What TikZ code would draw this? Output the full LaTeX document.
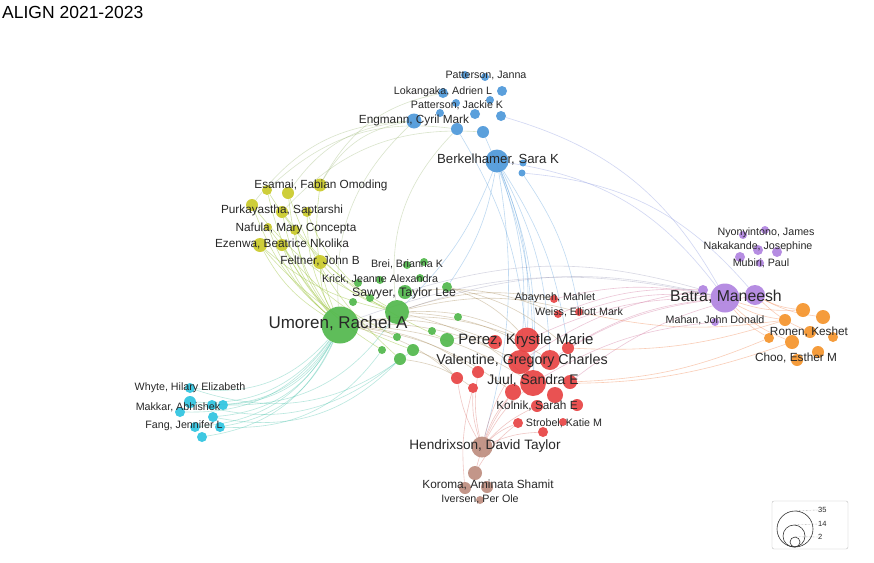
\documentclass[tikz,border=0pt]{standalone}
\usepackage{fontspec}
\setmainfont{Liberation Sans}
\usetikzlibrary{backgrounds}

\definecolor{vblue}{RGB}{78,152,218}
\definecolor{vgreen}{RGB}{82,184,76}
\definecolor{vred}{RGB}{232,68,68}
\definecolor{vyellow}{RGB}{202,202,42}
\definecolor{vpurple}{RGB}{176,132,224}
\definecolor{vorange}{RGB}{245,148,44}
\definecolor{vcyan}{RGB}{46,196,224}
\definecolor{vbrown}{RGB}{190,142,128}
\definecolor{labgray}{RGB}{40,40,40}

\def\bluenodes{berkel,b2,b3,engmann,b5,b6,b7,b8,b9,b10,b11,b12,b13,b14,b15}
\def\yellownodes{esamai,y2,y3,y4,y5,y6,y7,y8,ezenwa,y10,feltner}
\def\greennodes{umoren,g2,sawyer,g4,g5,g6,g7,g8,g9,g10,g11,g12,g13,g14,g15,g16,g17,g18}
\def\rednodes{perez,valentine,juul,r4,r5,r6,r7,r8,r9,r10,r11,r12,r13,r14,r15,r16,r17,abayneh,r19,weiss}
\def\brownnodes{hendrixson,n2,n3,n4,n5}
\def\purplenodes{batra,p2,p3,mahan,p5,p6,p7,p8,p9,p10}
\def\orangenodes{o1,o2,o3,o4,o5,o6,o7,o8,o9}
\def\cyannodes{c1,c2,c3,c4,c5,c6,c7,c8,c9}

\begin{document}
\begin{tikzpicture}[x=1pt,y=-1pt]
\tikzstyle{bubble}=[circle,inner sep=0pt,draw=none,fill opacity=0.92]
\tikzstyle{link}=[line width=0.6pt,draw opacity=0.36]
\tikzstyle{lab}=[text=labgray,inner sep=0pt,font=\fontsize{10.7}{12}\selectfont]
\tikzstyle{labmid}=[lab,font=\fontsize{11.8}{13}\selectfont]
\tikzstyle{labbig}=[lab,font=\fontsize{13.6}{15}\selectfont]

\useasboundingbox (0,0) rectangle (874,562);

\node[anchor=west,inner sep=0pt,font=\fontsize{17.5}{19}\selectfont] (title) at (2,12) {ALIGN 2021-2023};

\node[bubble,fill=vblue,minimum size=23pt] (berkel) at (497,161) {};
\node[bubble,fill=vblue,minimum size=7pt]  (b2) at (523,163) {};
\node[bubble,fill=vblue,minimum size=7pt]  (b3) at (522,173) {};
\node[bubble,fill=vblue,minimum size=15pt] (engmann) at (414,121) {};
\node[bubble,fill=vblue,minimum size=12pt] (b5) at (457,129) {};
\node[bubble,fill=vblue,minimum size=12pt] (b6) at (483,132) {};
\node[bubble,fill=vblue,minimum size=10pt] (b7) at (475,114) {};
\node[bubble,fill=vblue,minimum size=10pt] (b8) at (501,116) {};
\node[bubble,fill=vblue,minimum size=10pt] (b9) at (502,91) {};
\node[bubble,fill=vblue,minimum size=8pt]  (b10) at (465,75) {};
\node[bubble,fill=vblue,minimum size=8pt]  (b11) at (485,77) {};
\node[bubble,fill=vblue,minimum size=10pt] (b12) at (443,93) {};
\node[bubble,fill=vblue,minimum size=8pt]  (b13) at (440,113) {};
\node[bubble,fill=vblue,minimum size=8pt]  (b14) at (456,103) {};
\node[bubble,fill=vblue,minimum size=8pt]  (b15) at (490,100) {};

\node[bubble,fill=vyellow,minimum size=13pt] (esamai) at (320,185) {};
\node[bubble,fill=vyellow,minimum size=12pt] (y2) at (288,193) {};
\node[bubble,fill=vyellow,minimum size=10pt] (y3) at (267,190) {};
\node[bubble,fill=vyellow,minimum size=12pt] (y4) at (252,205) {};
\node[bubble,fill=vyellow,minimum size=12pt] (y5) at (282,212) {};
\node[bubble,fill=vyellow,minimum size=10pt] (y6) at (307,212) {};
\node[bubble,fill=vyellow,minimum size=10pt] (y7) at (295,230) {};
\node[bubble,fill=vyellow,minimum size=8pt]  (y8) at (268,227) {};
\node[bubble,fill=vyellow,minimum size=14pt] (ezenwa) at (260,245) {};
\node[bubble,fill=vyellow,minimum size=12pt] (y10) at (282,245) {};
\node[bubble,fill=vyellow,minimum size=14pt] (feltner) at (320,262) {};

\node[bubble,fill=vgreen,minimum size=37pt] (umoren) at (340,325) {};
\node[bubble,fill=vgreen,minimum size=24pt] (g2) at (397,312) {};
\node[bubble,fill=vgreen,minimum size=14pt] (sawyer) at (405,292) {};
\node[bubble,fill=vgreen,minimum size=10pt] (g4) at (447,287) {};
\node[bubble,fill=vgreen,minimum size=8pt]  (g5) at (458,317) {};
\node[bubble,fill=vgreen,minimum size=8pt]  (g6) at (432,331) {};
\node[bubble,fill=vgreen,minimum size=14pt] (g7) at (447,340) {};
\node[bubble,fill=vgreen,minimum size=8pt]  (g8) at (397,337) {};
\node[bubble,fill=vgreen,minimum size=8pt]  (g9) at (382,350) {};
\node[bubble,fill=vgreen,minimum size=12pt] (g10) at (413,350) {};
\node[bubble,fill=vgreen,minimum size=12pt] (g11) at (400,359) {};
\node[bubble,fill=vgreen,minimum size=8pt]  (g12) at (353,302) {};
\node[bubble,fill=vgreen,minimum size=8pt]  (g13) at (370,298) {};
\node[bubble,fill=vgreen,minimum size=8pt]  (g14) at (407,265) {};
\node[bubble,fill=vgreen,minimum size=8pt]  (g15) at (424,262) {};
\node[bubble,fill=vgreen,minimum size=8pt]  (g16) at (358,283) {};
\node[bubble,fill=vgreen,minimum size=8pt]  (g17) at (380,280) {};
\node[bubble,fill=vgreen,minimum size=8pt]  (g18) at (420,278) {};

\node[bubble,fill=vred,minimum size=25pt] (perez) at (527,340) {};
\node[bubble,fill=vred,minimum size=24pt] (valentine) at (520,362) {};
\node[bubble,fill=vred,minimum size=26pt] (juul) at (533,383) {};
\node[bubble,fill=vred,minimum size=20pt] (r4) at (550,360) {};
\node[bubble,fill=vred,minimum size=14pt] (r5) at (495,342) {};
\node[bubble,fill=vred,minimum size=12pt] (r6) at (568,348) {};
\node[bubble,fill=vred,minimum size=12pt] (r7) at (478,372) {};
\node[bubble,fill=vred,minimum size=12pt] (r8) at (457,378) {};
\node[bubble,fill=vred,minimum size=10pt] (r9) at (473,388) {};
\node[bubble,fill=vred,minimum size=16pt] (r10) at (513,392) {};
\node[bubble,fill=vred,minimum size=16pt] (r11) at (555,395) {};
\node[bubble,fill=vred,minimum size=14pt] (r12) at (570,382) {};
\node[bubble,fill=vred,minimum size=12pt] (r13) at (537,406) {};
\node[bubble,fill=vred,minimum size=12pt] (r14) at (577,405) {};
\node[bubble,fill=vred,minimum size=10pt] (r15) at (518,423) {};
\node[bubble,fill=vred,minimum size=10pt] (r16) at (543,432) {};
\node[bubble,fill=vred,minimum size=8pt]  (r17) at (563,422) {};
\node[bubble,fill=vred,minimum size=8pt]  (abayneh) at (554,299) {};
\node[bubble,fill=vred,minimum size=8pt]  (r19) at (558,314) {};
\node[bubble,fill=vred,minimum size=8pt]  (weiss) at (579,312) {};

\node[bubble,fill=vbrown,minimum size=21pt] (hendrixson) at (482,447) {};
\node[bubble,fill=vbrown,minimum size=14pt] (n2) at (475,473) {};
\node[bubble,fill=vbrown,minimum size=12pt] (n3) at (465,488) {};
\node[bubble,fill=vbrown,minimum size=12pt] (n4) at (487,487) {};
\node[bubble,fill=vbrown,minimum size=8pt]  (n5) at (480,500) {};

\node[bubble,fill=vpurple,minimum size=29pt] (batra) at (725,298) {};
\node[bubble,fill=vpurple,minimum size=20pt] (p2) at (755,295) {};
\node[bubble,fill=vpurple,minimum size=10pt] (p3) at (703,290) {};
\node[bubble,fill=vpurple,minimum size=8pt]  (mahan) at (715,322) {};
\node[bubble,fill=vpurple,minimum size=8pt]  (p5) at (765,230) {};
\node[bubble,fill=vpurple,minimum size=8pt]  (p6) at (743,235) {};
\node[bubble,fill=vpurple,minimum size=10pt] (p7) at (758,250) {};
\node[bubble,fill=vpurple,minimum size=10pt] (p8) at (777,252) {};
\node[bubble,fill=vpurple,minimum size=10pt] (p9) at (740,257) {};
\node[bubble,fill=vpurple,minimum size=8pt]  (p10) at (760,263) {};

\node[bubble,fill=vorange,minimum size=14pt] (o1) at (803,310) {};
\node[bubble,fill=vorange,minimum size=14pt] (o2) at (823,317) {};
\node[bubble,fill=vorange,minimum size=12pt] (o3) at (785,320) {};
\node[bubble,fill=vorange,minimum size=12pt] (o4) at (810,332) {};
\node[bubble,fill=vorange,minimum size=14pt] (o5) at (792,342) {};
\node[bubble,fill=vorange,minimum size=10pt] (o6) at (769,338) {};
\node[bubble,fill=vorange,minimum size=10pt] (o7) at (833,337) {};
\node[bubble,fill=vorange,minimum size=12pt] (o8) at (818,352) {};
\node[bubble,fill=vorange,minimum size=12pt] (o9) at (797,360) {};

\node[bubble,fill=vcyan,minimum size=12pt] (c1) at (190,402) {};
\node[bubble,fill=vcyan,minimum size=10pt] (c2) at (212,405) {};
\node[bubble,fill=vcyan,minimum size=10pt] (c3) at (223,405) {};
\node[bubble,fill=vcyan,minimum size=10pt] (c4) at (180,412) {};
\node[bubble,fill=vcyan,minimum size=10pt] (c5) at (213,417) {};
\node[bubble,fill=vcyan,minimum size=10pt] (c6) at (195,427) {};
\node[bubble,fill=vcyan,minimum size=10pt] (c7) at (220,427) {};
\node[bubble,fill=vcyan,minimum size=10pt] (c8) at (202,437) {};
\node[bubble,fill=vcyan,minimum size=10pt] (c9) at (190,388) {};

\node[lab]    (l-janna) at (486,76) {Patterson, Janna};
\node[lab]    (l-lokangaka) at (443,92) {Lokangaka, Adrien L};
\node[lab]    (l-jackie) at (457,105) {Patterson, Jackie K};
\node[labmid] (l-engmann) at (414,120) {Engmann, Cyril Mark};
\node[labbig,font=\fontsize{13.2}{15}\selectfont] (l-berkel) at (498,160) {Berkelhamer, Sara K};
\node[labmid] (l-esamai) at (321,185) {Esamai, Fabian Omoding};
\node[labmid] (l-purka) at (282,210) {Purkayastha, Saptarshi};
\node[labmid] (l-nafula) at (296,228) {Nafula, Mary Concepta};
\node[labmid] (l-ezenwa) at (282,244) {Ezenwa, Beatrice Nkolika};
\node[labmid] (l-feltner) at (320,261) {Feltner, John B};
\node[lab]    (l-brei) at (407,264) {Brei, Brianna K};
\node[lab]    (l-krick) at (380,279) {Krick, Jeanne Alexandra};
\node[labmid,font=\fontsize{12.3}{14}\selectfont] (l-sawyer) at (404,293) {Sawyer, Taylor Lee};
\node[lab,font=\fontsize{17}{19}\selectfont] (l-umoren) at (338,323) {Umoren, Rachel A};
\node[lab]    (l-abayneh) at (555,298) {Abayneh, Mahlet};
\node[lab]    (l-weiss) at (579,312) {Weiss, Elliott Mark};
\node[lab,font=\fontsize{15}{17}\selectfont] (l-perez) at (526,341) {Perez, Krystle Marie};
\node[lab,font=\fontsize{14.3}{16}\selectfont] (l-valentine) at (522,361) {Valentine, Gregory Charles};
\node[labbig,font=\fontsize{13.9}{16}\selectfont] (l-juul) at (533,380) {Juul, Sandra E};
\node[labmid] (l-kolnik) at (537,406) {Kolnik, Sarah E};
\node[lab]    (l-strobel) at (564,423) {Strobel, Katie M};
\node[labbig] (l-hendrixson) at (485,446) {Hendrixson, David Taylor};
\node[labmid] (l-koroma) at (488,485) {Koroma, Aminata Shamit};
\node[lab]    (l-iversen) at (480,499) {Iversen, Per Ole};
\node[lab,font=\fontsize{15.8}{18}\selectfont] (l-batra) at (726,297) {Batra, Maneesh};
\node[lab]    (l-nyonyintono) at (766,233) {Nyonyintono, James};
\node[lab]    (l-nakakande) at (758,247) {Nakakande, Josephine};
\node[lab]    (l-mubiri) at (761,263) {Mubiri, Paul};
\node[lab]    (l-mahan) at (715,320) {Mahan, John Donald};
\node[labmid] (l-ronen) at (809,332) {Ronen, Keshet};
\node[labmid] (l-choo) at (796,358) {Choo, Esther M};
\node[lab]    (l-whyte) at (190,388) {Whyte, Hilary Elizabeth};
\node[lab]    (l-makkar) at (178,407) {Makkar, Abhishek};
\node[lab]    (l-fang) at (184,426) {Fang, Jennifer L};

\draw[rounded corners=2pt,draw=black!25] (772,501) rectangle (848,549);
\node[circle,draw=black!80,line width=0.6pt,inner sep=0pt,minimum size=36pt] (leg35) at (795,529) {};
\node[circle,draw=black!80,line width=0.6pt,inner sep=0pt,minimum size=22pt] (leg14) at (794,536) {};
\node[circle,draw=black!80,line width=0.6pt,inner sep=0pt,minimum size=10pt] (leg2) at (795,542) {};
\node[anchor=west,inner sep=0pt,text=labgray,font=\fontsize{7.5}{8}\selectfont] (t35) at (818,510) {35};
\node[anchor=west,inner sep=0pt,text=labgray,font=\fontsize{7.5}{8}\selectfont] (t14) at (818,524) {14};
\node[anchor=west,inner sep=0pt,text=labgray,font=\fontsize{7.5}{8}\selectfont] (t2) at (818,537) {2};
\draw[densely dotted,black!50] (leg35.north) -- (t35.west);
\draw[densely dotted,black!50] (leg14.north) -- (t14.west);
\draw[densely dotted,black!50] (leg2.north) -- (t2.west);

\begin{scope}[on background layer]
\fill[white] (0,0) rectangle (874,562);
\foreach \lst/\col in {\bluenodes/vblue,\yellownodes/vyellow,\greennodes/vgreen,\rednodes/vred,\brownnodes/vbrown,\purplenodes/vpurple,\orangenodes/vorange,\cyannodes/vcyan} {
  \foreach \u [count=\i] in \lst {
    \foreach \v [count=\j] in \lst {
      \ifnum\i<\j \path[link,draw=\col] (\u) edge[bend left=22] (\v); \fi
    }
  }
}
\foreach \a/\b in {umoren/c1,umoren/c2,umoren/c3,umoren/c4,umoren/c5,umoren/c6,umoren/c7,umoren/c8,umoren/c9,g11/c1,g11/c5,g9/c7,g2/c3,g10/c9}
  \path[link,draw=vgreen!40!vcyan] (\b) edge[bend right=28] (\a);
\foreach \a/\b in {umoren/esamai,umoren/y2,umoren/y3,umoren/y4,umoren/y5,umoren/y6,umoren/y7,umoren/y8,umoren/ezenwa,umoren/y10,umoren/feltner,g2/y4,g2/ezenwa,g2/feltner,g11/y2,g7/y5,g10/ezenwa,g2/y3,g8/y8,g9/y10,g13/y6}
  \path[link,draw=vgreen!40!vyellow,draw opacity=0.45] (\b) edge[bend right=14] (\a);
\foreach \a/\b in {engmann/esamai,engmann/y2,engmann/y4,b5/y3,b12/esamai,b6/y5,engmann/umoren,b5/g2}
  \path[link,draw=vyellow!60!vblue] (\a) edge[bend right=25] (\b);
\foreach \a/\b in {berkel/perez,berkel/valentine,berkel/juul,berkel/r4,berkel/r6,b5/perez,b6/juul,berkel/g4,berkel/g2,b3/weiss,berkel/hendrixson}
  \path[link,draw=vblue] (\a) edge[bend left=12] (\b);
\foreach \a/\b in {berkel/batra,b8/batra,b3/p2}
  \path[link,draw=vblue!50!vpurple] (\a) edge[bend left=22] (\b);
\foreach \a/\b in {umoren/perez,umoren/valentine,umoren/juul,umoren/r5,umoren/r7,umoren/r8,g2/perez,g2/r4,g2/abayneh,g2/weiss,sawyer/r19,g7/r5,g4/perez,g4/r6,g10/r8,g11/r9,umoren/r10,g2/juul}
  \path[link,draw=vgreen!50!vred] (\a) edge[bend left=14] (\b);
\foreach \a/\b in {perez/batra,r4/batra,r6/batra,weiss/batra,r12/p2,valentine/p3,abayneh/batra,juul/mahan,r19/p3}
  \path[link,draw=vred!50!vpurple] (\a) edge[bend left=12] (\b);
\foreach \a/\b in {umoren/batra,g2/batra,sawyer/p3}
  \path[link,draw=vpurple!70!vgreen] (\a) edge[bend left=16] (\b);
\foreach \a/\b in {batra/o3,batra/o5,batra/o6,batra/o1,p2/o1,p2/o2,p2/o4,r6/o3,r12/o6,juul/o5,weiss/o3}
  \path[link,draw=vorange!60!vred] (\a) edge[bend right=10] (\b);
\foreach \a/\b in {hendrixson/r7,hendrixson/r9,hendrixson/r10,hendrixson/r13,hendrixson/r15,hendrixson/r16,hendrixson/juul,hendrixson/valentine,n2/r15,n2/r10,hendrixson/r8,n3/r9}
  \path[link,draw=vbrown!40!vred] (\a) edge[bend left=10] (\b);
\end{scope}
\end{tikzpicture}
\end{document}
